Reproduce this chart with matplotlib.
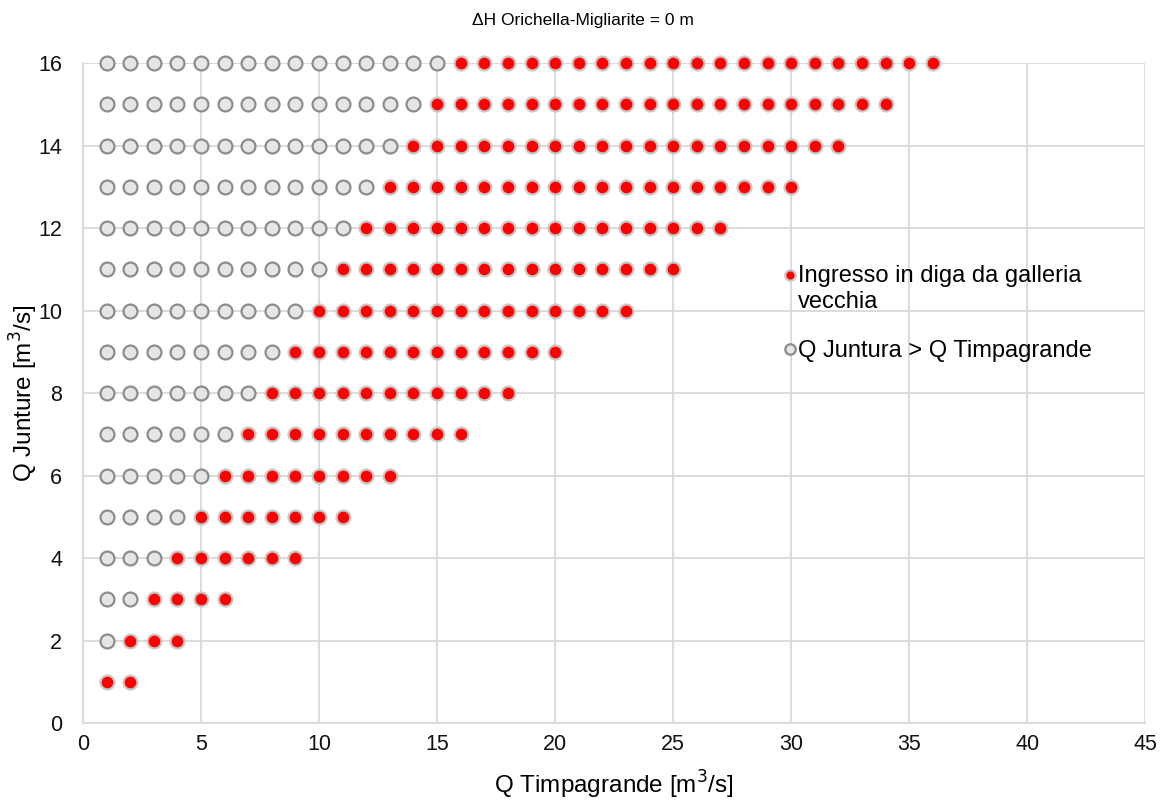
import matplotlib
matplotlib.use("Agg")
import matplotlib.pyplot as plt
import numpy as np

plt.rcParams["font.family"] = ["Liberation Sans", "DejaVu Sans"]

# rows of Q Junture, with first and last Q Timpagrande of the red run
q_junture = [1, 2, 3, 4, 5, 6, 7, 8, 9, 10, 11, 12, 13, 14, 15, 16]
red_start = [1, 2, 3, 4, 5, 6, 7, 8, 9, 10, 11, 12, 13, 14, 15, 16]
red_end = [2, 4, 6, 9, 11, 13, 16, 18, 20, 23, 25, 27, 30, 32, 34, 36]
gray_start = 1  # gray dots run from 1 to red_start - 1

red_x, red_y, gray_x, gray_y = [], [], [], []
for qj, s, e in zip(q_junture, red_start, red_end):
    for qt in range(s, e + 1):
        red_x.append(qt)
        red_y.append(qj)
    for qt in range(gray_start, s):
        gray_x.append(qt)
        gray_y.append(qj)

fig = plt.figure(figsize=(11.65, 8), dpi=100)
ax = fig.add_axes([0.0712, 0.096, 0.912, 0.825])

ax.plot(red_x, red_y, "o", ls="none", color="#ff0000", mec="#c8c8c8", mew=1.6,
        ms=10, clip_on=False, zorder=3, label="Ingresso in diga da galleria\nvecchia")
ax.plot(gray_x, gray_y, "o", ls="none", color="#e6e6e6", mec="#8c8c8c", mew=1.6,
        ms=10, clip_on=False, zorder=3, label="Q Juntura > Q Timpagrande")

ax.set_xlim(0, 45)
ax.set_ylim(0, 16)
ax.set_xticks(range(0, 46, 5))
ax.set_yticks(range(0, 17, 2))
ax.grid(True, color="#d9d9d9", lw=1.3)
ax.set_axisbelow(True)
for sp in ["top", "right"]:
    ax.spines[sp].set_visible(False)
for sp in ["left", "bottom"]:
    ax.spines[sp].set_color("#d9d9d9")
    ax.spines[sp].set_linewidth(1.3)
ax.tick_params(length=0, labelsize=15.5, colors="#111111")
ax.tick_params(axis="x", pad=8)
ax.tick_params(axis="y", pad=15)

ax.set_xlabel("Q Timpagrande [m$^3$/s]", fontsize=17.5, labelpad=10)
ax.set_ylabel("Q Junture [m$^3$/s]", fontsize=17.5, labelpad=-1)
fig.text(0.5, 0.975, "ΔH Orichella-Migliarite = 0 m", ha="center", va="center", fontsize=12.5)

leg = ax.legend(loc="upper left", bbox_to_anchor=(0.652, 0.708), frameon=False,
                fontsize=17, markerscale=0.75, handlelength=0.4, handletextpad=0.15,
                labelspacing=1.15, borderaxespad=0)
# put the red marker next to the first line of its two-line label
h = leg.legend_handles[0]
h.set_ydata(np.asarray(h.get_ydata()) + 10)

fig.savefig("out.png", dpi=100)
